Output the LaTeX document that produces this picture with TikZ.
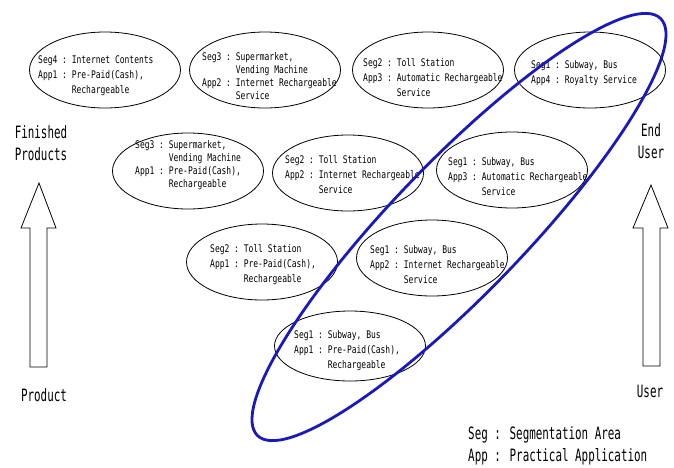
\documentclass[tikz,border=0pt]{standalone}
\usepackage{fontspec}
\newfontfamily\gfont[FakeStretch=0.76]{DejaVu Sans Mono}
\newfontfamily\bfont[FakeStretch=0.64]{DejaVu Sans Mono}
\usetikzlibrary{shapes.geometric}
\definecolor{ringblue}{RGB}{25,25,190}
\newcommand{\segtab}[1]{\begin{tabular}{@{}l@{}l@{}}#1\end{tabular}}
\newcommand{\sk}[1]{#1\ :\ }
\begin{document}
\begin{tikzpicture}[x=1pt,y=-1pt,
  oval/.style={draw=black, line width=0.8pt, ellipse, minimum width=151pt, minimum height=76pt, inner sep=0pt},
  txt/.style={anchor=west, inner sep=0pt, font=\gfont\fontsize{10.5}{15}\selectfont},
  txtq/.style={txt, font=\gfont\fontsize{10.5}{13}\selectfont},
  big/.style={inner sep=0pt, align=center, font=\bfont\fontsize{17}{22}\selectfont},
  blockarrow/.style={draw=black, line width=0.8pt, fill=white},
  ring/.style={draw=ringblue, line width=2.8pt}]
\fill[white] (0,0) rectangle (674,467);
\useasboundingbox (0,0) rectangle (674,467);

% ellipses
\node[oval] (e1) at (105,70) {};
\node[oval] (e2) at (265,70) {};
\node[oval] (e3) at (428,70) {};
\node[oval] (e4) at (590,70) {};
\node[oval] (e5) at (188,171) {};
\node[oval] (e6) at (348,173) {};
\node[oval] (e7) at (512,170) {};
\node[oval] (e8) at (262,262) {};
\node[oval] (e9) at (432,258) {};
\node[oval, minimum height=70pt] (e10) at (350,346) {};

% texts
\node[txt] (t1) at (38,75) {\segtab{\sk{Seg4} & Internet Contents\\ \sk{App1} & Pre-Paid(Cash),\\ & Rechargeable}};
\node[txtq] (t2) at (202,77) {\segtab{\sk{Seg3} & Supermarket,\\ & Vending Machine\\ \sk{App2} & Internet Rechargeable\\ & Service}};
\node[txt] (t3) at (363,78) {\segtab{\sk{Seg2} & Toll Station\\ \sk{App3} & Automatic Rechargeable\\ & Service}};
\node[txt] (t4) at (531,73) {\segtab{\sk{Seg1} & Subway, Bus\\ \sk{App4} & Royalty Service}};
\node[txtq] (t5) at (135,165) {\segtab{\sk{Seg3} & Supermarket,\\ & Vending Machine\\ \sk{App1} & Pre-Paid(Cash),\\ & Rechargeable}};
\node[txt] (t6) at (285,175) {\segtab{\sk{Seg2} & Toll Station\\ \sk{App2} & Internet Rechargeable\\ & Service}};
\node[txt] (t7) at (448,177) {\segtab{\sk{Seg1} & Subway, Bus\\ \sk{App3} & Automatic Rechargeable\\ & Service}};
\node[txt] (t8) at (210,264) {\segtab{\sk{Seg2} & Toll Station\\ \sk{App1} & Pre-Paid(Cash),\\ & Rechargeable}};
\node[txt] (t9) at (370,265) {\segtab{\sk{Seg1} & Subway, Bus\\ \sk{App2} & Internet Rechargeable\\ & Service}};
\node[txt] (t10) at (294,350) {\segtab{\sk{Seg1} & Subway, Bus\\ \sk{App1} & Pre-Paid(Cash),\\ & Rechargeable}};

% block arrows
\draw[blockarrow] (39,183) -- (56,228) -- (47,228) -- (47,367) -- (30,367) -- (30,228) -- (21,228) -- cycle;
\draw[blockarrow] (651,185) -- (668,228) -- (660,228) -- (660,366) -- (643,366) -- (643,228) -- (633,228) -- cycle;

% side labels
\node[big] (fin) at (41,143) {Finished\\Products};
\node[big] (prod) at (44,395) {Product};
\node[big] (end) at (651,141) {End\\User};
\node[big] (user) at (650,391) {User};

% legend
\node[big, anchor=west, align=left] (legend) at (468,446) {Seg : Segmentation Area\\App : Practical Application};

% blue ring
\draw[ring, rotate around={46:(459,227)}] (459,227) ellipse [x radius=290, y radius=66];
\end{tikzpicture}
\end{document}
